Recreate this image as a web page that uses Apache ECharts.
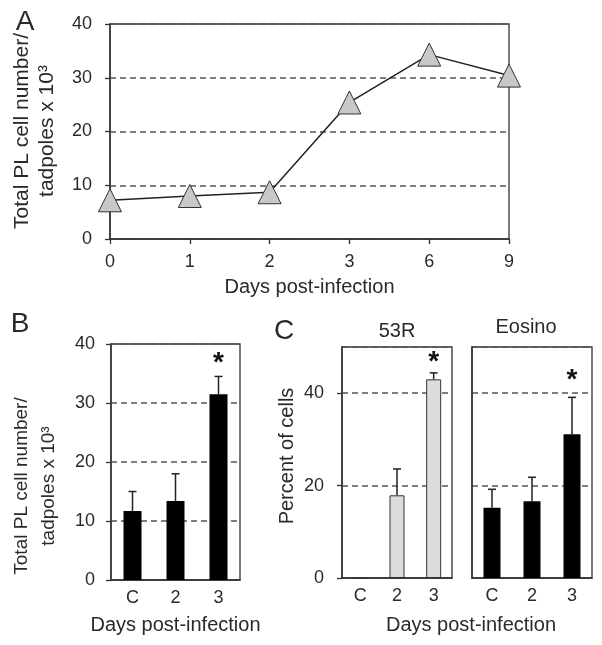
<!DOCTYPE html>
<html><head><meta charset="utf-8">
<script src="https://cdn.jsdelivr.net/npm/echarts@6/dist/echarts.min.js"></script>
<style>html,body{margin:0;padding:0;background:#fff}#c{width:602px;height:645px}</style>
</head><body><div id="c"></div>
<script>
// ---- data ----
const daysA = ['0', '1', '2', '3', '6', '9'];
const cellsA = [7.2, 8.0, 8.7, 25.4, 34.3, 30.4];

const groupsB = ['C', '2', '3'];
const meanB = [11.7, 13.4, 31.5];
const sdB = [3.3, 4.6, 3.0];
const sigB = [false, false, true];

const groupsC = ['C', '2', '3'];
const mean53R = [0, 17.9, 43.0];
const sd53R = [0, 5.7, 1.4];
const sig53R = [false, false, true];
const meanEos = [15.2, 16.6, 31.1];
const sdEos = [4.0, 5.2, 8.0];
const sigEos = [false, false, true];

const xTitle = 'Days post-infection';
const yTitle1 = 'Total PL cell number/';
const yTitle2 = 'tadpoles x 10³';
const yTitleC = 'Percent of cells';
const titleC1 = '53R';
const titleC2 = 'Eosino';

// ---- styling ----
const FONT = '"Liberation Sans", Arial, sans-serif';
const TXT = '#2a2a2a';
const AX = '#333';

function errData(mean, sd) { return mean.map((m, i) => [i, m, m + sd[i]]); }
function starData(mean, sd, sig) {
  const out = [];
  mean.forEach((m, i) => { if (sig[i]) out.push([i, m + sd[i]]); });
  return out;
}
function errRender(params, api) {
  const x = api.value(0), v = api.value(1), t = api.value(2);
  if (!(t > v)) return null;
  const lo = api.coord([x, v]);
  const hi = api.coord([x, t]);
  return {
    type: 'group', children: [
      { type: 'line', shape: { x1: lo[0], y1: lo[1], x2: hi[0], y2: hi[1] }, style: { stroke: '#222', lineWidth: 1.5 } },
      { type: 'line', shape: { x1: hi[0] - 4, y1: hi[1], x2: hi[0] + 4, y2: hi[1] }, style: { stroke: '#222', lineWidth: 1.5 } }
    ]
  };
}
function starRender(offset) {
  return function (params, api) {
    const p = api.coord([api.value(0), api.value(1)]);
    return { type: 'text', x: p[0], y: p[1] - offset,
      style: { text: '*', fontSize: 28, fontFamily: FONT, fontWeight: 'bold', fill: '#111', align: 'center', verticalAlign: 'middle' } };
  };
}
const splitStyle = { show: true, lineStyle: { type: [6, 4], color: '#555', width: 1.5 } };
const gridBase = { show: true, borderColor: AX, borderWidth: 1.3, backgroundColor: 'transparent' };

function catAxis(idx, data, opts) {
  return Object.assign({
    type: 'category', gridIndex: idx, data: data,
    axisLine: { show: true, lineStyle: { color: AX, width: 1.5 } },
    axisTick: { show: false },
    axisLabel: { fontSize: 18, fontFamily: FONT, color: TXT, margin: 9 },
    splitLine: { show: false }
  }, opts || {});
}
function valAxis(idx, max, interval, opts) {
  return Object.assign({
    type: 'value', gridIndex: idx, min: 0, max: max, interval: interval,
    axisLine: { show: true, lineStyle: { color: AX, width: 1.5 } },
    axisTick: { show: true, length: 5, lineStyle: { color: AX, width: 1.3 } },
    axisLabel: { fontSize: 18, fontFamily: FONT, color: TXT, margin: 18 },
    splitLine: splitStyle
  }, opts || {});
}
function gtext(text, x, y, size, rot) {
  return { type: 'text', x: x, y: y, rotation: rot || 0,
    style: { text: text, fontSize: size, fontFamily: FONT, fill: TXT, align: 'center', verticalAlign: 'middle' } };
}

const chart = echarts.init(document.getElementById('c'), null, { renderer: 'canvas' });
chart.setOption({
  backgroundColor: '#fff',
  animation: false,
  grid: [
    Object.assign({ left: 110, top: 24, width: 399, height: 215 }, gridBase),
    Object.assign({ left: 111, top: 344, width: 129, height: 236 }, gridBase),
    Object.assign({ left: 342, top: 347, width: 110, height: 231 }, gridBase),
    Object.assign({ left: 472, top: 347, width: 120, height: 231 }, gridBase)
  ],
  xAxis: [
    catAxis(0, daysA, {
      boundaryGap: false,
      axisTick: { show: true, length: 5, lineStyle: { color: AX, width: 1.3 } },
      axisLabel: { fontSize: 18, fontFamily: FONT, color: TXT, margin: 14 },
      name: xTitle, nameLocation: 'middle', nameGap: 38,
      nameTextStyle: { fontSize: 20, fontFamily: FONT, color: TXT }
    }),
    catAxis(1, groupsB, {
      name: xTitle, nameLocation: 'middle', nameGap: 35,
      nameTextStyle: { fontSize: 20, fontFamily: FONT, color: TXT }
    }),
    catAxis(2, groupsC),
    catAxis(3, groupsC)
  ],
  yAxis: [
    valAxis(0, 40, 10),
    valAxis(1, 40, 10, { axisLabel: { fontSize: 18, fontFamily: FONT, color: TXT, margin: 16 } }),
    valAxis(2, 50, 20, { axisLabel: { fontSize: 18, fontFamily: FONT, color: TXT, margin: 18, showMaxLabel: false } }),
    valAxis(3, 50, 20, { axisLabel: { show: false }, axisTick: { show: false } })
  ],
  series: [
    { type: 'line', xAxisIndex: 0, yAxisIndex: 0, data: cellsA,
      symbol: 'triangle', symbolSize: 23, z: 5,
      itemStyle: { color: '#c8c8c8', borderColor: '#333', borderWidth: 1 },
      lineStyle: { color: '#222', width: 1.5 } },

    { type: 'bar', xAxisIndex: 1, yAxisIndex: 1, data: meanB, barWidth: 18, itemStyle: { color: '#000' } },
    { type: 'custom', xAxisIndex: 1, yAxisIndex: 1, data: errData(meanB, sdB), renderItem: errRender, z: 4, encode: { x: 0, y: [1, 2] } },
    { type: 'custom', xAxisIndex: 1, yAxisIndex: 1, data: starData(meanB, sdB, sigB), renderItem: starRender(13), z: 4, encode: { x: 0, y: 1 } },

    { type: 'bar', xAxisIndex: 2, yAxisIndex: 2, data: mean53R, barWidth: 15,
      itemStyle: { color: '#dcdcdc', borderColor: '#333', borderWidth: 1 } },
    { type: 'custom', xAxisIndex: 2, yAxisIndex: 2, data: errData(mean53R, sd53R), renderItem: errRender, z: 4, encode: { x: 0, y: [1, 2] } },
    { type: 'custom', xAxisIndex: 2, yAxisIndex: 2, data: starData(mean53R, sd53R, sig53R), renderItem: starRender(11), z: 4, encode: { x: 0, y: 1 } },

    { type: 'bar', xAxisIndex: 3, yAxisIndex: 3, data: meanEos, barWidth: 17, itemStyle: { color: '#000' } },
    { type: 'custom', xAxisIndex: 3, yAxisIndex: 3, data: errData(meanEos, sdEos), renderItem: errRender, z: 4, encode: { x: 0, y: [1, 2] } },
    { type: 'custom', xAxisIndex: 3, yAxisIndex: 3, data: starData(meanEos, sdEos, sigEos), renderItem: starRender(17), z: 4, encode: { x: 0, y: 1 } }
  ],
  graphic: [
    gtext('A', 25, 22, 28),
    gtext('B', 20, 324, 28),
    gtext('C', 284, 331, 28),
    gtext(yTitle1, 22, 131, 21, Math.PI / 2),
    gtext(yTitle2, 47, 131, 21, Math.PI / 2),
    gtext(yTitle1, 22, 486, 19, Math.PI / 2),
    gtext(yTitle2, 49, 486, 19, Math.PI / 2),
    gtext(yTitleC, 287, 456, 20, Math.PI / 2),
    gtext(titleC1, 397, 331, 20),
    gtext(titleC2, 526, 327, 20),
    gtext(xTitle, 471, 625, 20)
  ]
});
</script>
</body></html>
